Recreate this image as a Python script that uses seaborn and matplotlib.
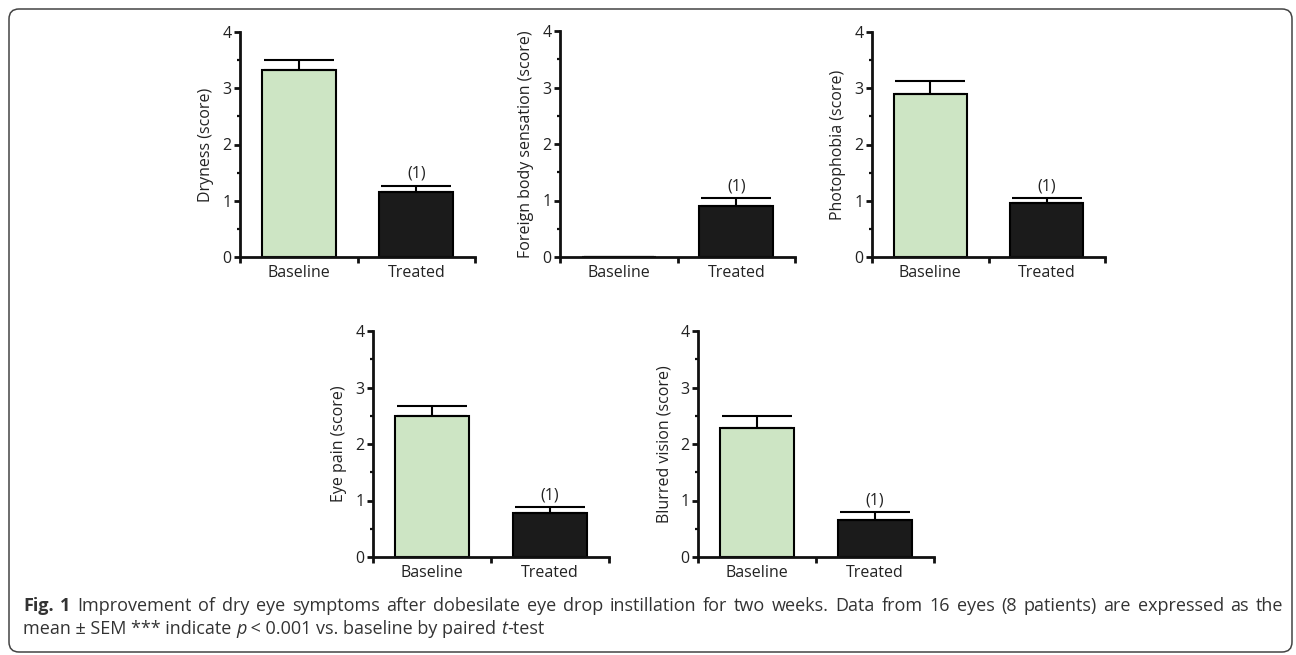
import pandas as pd
import seaborn as sns
import matplotlib.pyplot as plt
from matplotlib.patches import FancyBboxPatch
from matplotlib.ticker import MultipleLocator
from matplotlib.transforms import IdentityTransform

W, H = 1296, 655

groups = ["Baseline", "Treated"]
symptoms = ["Dryness", "Foreign body sensation", "Photophobia", "Eye pain", "Blurred vision"]
baseline_mean = [3.33, 0.0, 2.89, 2.50, 2.28]
baseline_sem = [0.18, 0.0, 0.24, 0.17, 0.22]
treated_mean = [1.16, 0.91, 0.96, 0.78, 0.65]
treated_sem = [0.11, 0.14, 0.095, 0.11, 0.15]
sig_marks = ["(1)", "(1)", "(1)", "(1)", "(1)"]

colors = ["#cde5c4", "#1b1b1b"]

# axes boxes in pixels: left, right, top, bottom
boxes = [
    (240, 475, 32, 257),
    (560, 795, 31, 257),
    (872, 1105, 32, 257),
    (373, 609, 331, 557),
    (698, 934, 331, 557),
]

sns.set_theme(style="ticks")
plt.rcParams["font.family"] = ["Open Sans", "DejaVu Sans"]

fig = plt.figure(figsize=(W / 100, H / 100), dpi=100)

for i, name in enumerate(symptoms):
    l, r, t, b = boxes[i]
    ax = fig.add_axes([l / W, 1 - b / H, (r - l) / W, (b - t) / H])

    df = pd.DataFrame({
        "group": groups,
        "score": [baseline_mean[i], treated_mean[i]],
        "sem": [baseline_sem[i], treated_sem[i]],
    })
    sns.barplot(data=df, x="group", y="score", hue="group", palette=colors,
                saturation=1, width=0.63, edgecolor="black", linewidth=1.5,
                ax=ax, legend=False)
    ax.errorbar(x=[0, 1], y=df["score"], yerr=[[0, 0], df["sem"]], fmt="none",
                ecolor="black", elinewidth=1.5, capsize=25, capthick=1.5)
    ax.annotate(sig_marks[i], (1, treated_mean[i] + treated_sem[i]),
                xytext=(0, 5.5), textcoords="offset points",
                ha="center", va="baseline", fontsize=11.5, color="#222222")

    ax.set_xlim(-0.5, 1.5)
    ax.set_ylim(0, 4)
    ax.set_yticks([0, 1, 2, 3, 4])
    ax.yaxis.set_minor_locator(MultipleLocator(0.5))
    ax.set_xticks([-0.5, 0.5, 1.5], labels=["", "", ""])
    ax.set_xticks([0, 1], labels=groups, minor=True)

    ax.tick_params(axis="y", which="major", length=4, width=2, labelsize=11.5,
                   pad=2, colors="#111111", labelcolor="#222222")
    ax.tick_params(axis="y", which="minor", length=2.5, width=1.6, colors="#111111")
    ax.tick_params(axis="x", which="major", length=4, width=2, colors="#111111")
    ax.tick_params(axis="x", which="minor", length=0, labelsize=11.5, pad=6,
                   labelcolor="#222222")

    ax.set_xlabel("")
    ax.set_ylabel(f"{name} (score)", fontsize=11.5, labelpad=6, color="#222222")
    sns.despine(ax=ax)
    for side in ["left", "bottom"]:
        ax.spines[side].set_linewidth(2)
        ax.spines[side].set_color("#111111")

renderer = fig.canvas.get_renderer()
cap_size = 13
cap_color = "#333333"


def put(x, y, text, weight="normal", style="normal"):
    txt = fig.text(x / W, 1 - y / H, text, fontsize=cap_size, fontweight=weight,
                   fontstyle=style, ha="left", va="baseline", color=cap_color)
    return txt.get_window_extent(renderer).width


# first caption line is justified to the right margin
line1 = [("Fig.", "bold"), ("1", "bold")] + [
    (w, "normal") for w in ("Improvement of dry eye symptoms after dobesilate eye drop "
                            "instillation for two weeks. Data from 16 eyes (8 patients) "
                            "are expressed as the").split()
]
x0, x1 = 23, 1283
widths = []
for word, weight in line1:
    probe = fig.text(0, 0, word, fontsize=cap_size, fontweight=weight)
    widths.append(probe.get_window_extent(renderer).width)
    probe.remove()
gap = (x1 - x0 - sum(widths)) / (len(line1) - 1)
x = x0
for (word, weight), w in zip(line1, widths):
    put(x, 611, word, weight)
    x += w + gap

x = x0
for text, style in [("mean ± SEM *** indicate ", "normal"), ("p", "italic"),
                    (" < 0.001 vs. baseline by paired ", "normal"), ("t", "italic"),
                    ("-test", "normal")]:
    x += put(x, 634, text, style=style)

border = FancyBboxPatch((9, 3), 1283, 643, boxstyle="round,pad=0,rounding_size=10",
                        transform=IdentityTransform(), fill=False,
                        edgecolor="#444444", linewidth=1.1)
fig.add_artist(border)

fig.savefig("out.png", dpi=100)
